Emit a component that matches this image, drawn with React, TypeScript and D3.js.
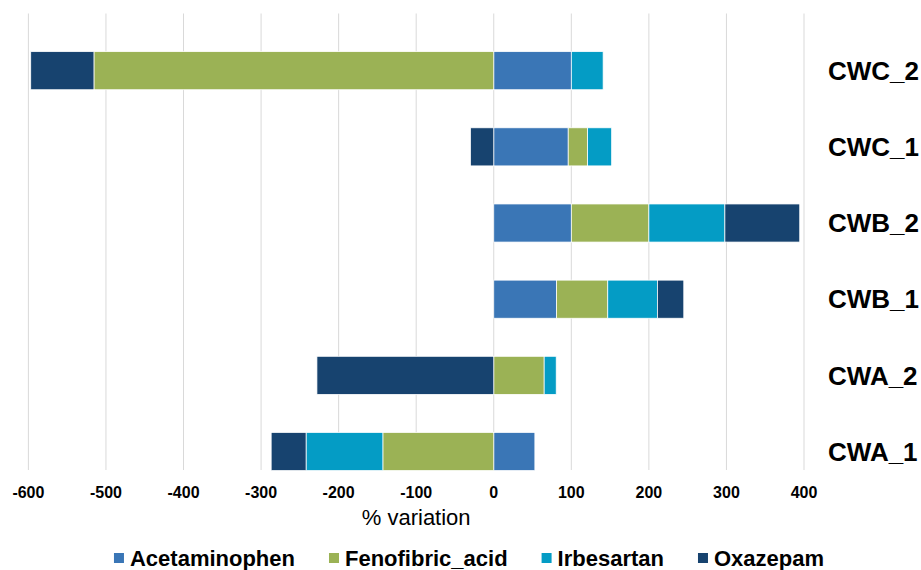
import React, { useEffect, useRef } from "react";
import * as d3 from "d3";

// Sites, listed top to bottom
const categories = ["CWC_2", "CWC_1", "CWB_2", "CWB_1", "CWA_2", "CWA_1"];
const seriesNames = ["Acetaminophen", "Fenofibric_acid", "Irbesartan", "Oxazepam"];

// % variation per compound, same order as categories
const acetaminophen = [100, 96, 100, 81, 0, 53];
const fenofibricAcid = [-515.5, 25, 100, 66, 65, -143];
const irbesartan = [41, 31, 98, 64, 15.5, -99];
const oxazepam = [-81.5, -30, 96.5, 34, -228, -45];

const xTicks = [-600, -500, -400, -300, -200, -100, 0, 100, 200, 300, 400];
const colors = ["#3a76b6", "#9bb255", "#049cc5", "#17436f"];

const W = 921;
const H = 570;
const FONT = "'Liberation Sans', Arial, sans-serif";

export default function App() {
  const ref = useRef<SVGSVGElement | null>(null);

  useEffect(() => {
    document.body.style.margin = "0";
    const svg = d3.select(ref.current);
    svg.selectAll("*").remove();

    const x = d3.scaleLinear().domain([-600, 400]).range([28.4, 804]);
    const y = d3
      .scaleBand<string>()
      .domain(categories)
      .range([32.6, 489.6])
      .paddingInner(0.5)
      .paddingOuter(0.25);

    const rows = categories.map((c, i) => ({
      cat: c,
      Acetaminophen: acetaminophen[i],
      Fenofibric_acid: fenofibricAcid[i],
      Irbesartan: irbesartan[i],
      Oxazepam: oxazepam[i],
    }));

    const stacked = d3
      .stack<any>()
      .keys(seriesNames)
      .offset(d3.stackOffsetDiverging)(rows);

    // vertical gridlines
    svg
      .append("g")
      .selectAll("line")
      .data(xTicks)
      .join("line")
      .attr("x1", (d) => x(d))
      .attr("x2", (d) => x(d))
      .attr("y1", 13.5)
      .attr("y2", 470)
      .attr("stroke", "#d9d9d9")
      .attr("stroke-width", 1);

    // stacked bars
    svg
      .append("g")
      .selectAll("g")
      .data(stacked)
      .join("g")
      .attr("fill", (_, i) => colors[i])
      .selectAll("rect")
      .data((s) => s.filter((d) => d[1] !== d[0]))
      .join("rect")
      .attr("x", (d) => x(Math.min(d[0], d[1])))
      .attr("width", (d) => Math.abs(x(d[1]) - x(d[0])))
      .attr("y", (d) => y(d.data.cat)!)
      .attr("height", y.bandwidth())
      .attr("stroke", "#ffffff")
      .attr("stroke-width", 0.75);

    // x tick labels
    svg
      .append("g")
      .selectAll("text")
      .data(xTicks)
      .join("text")
      .attr("x", (d) => x(d))
      .attr("y", 497.5)
      .attr("text-anchor", "middle")
      .attr("font-family", FONT)
      .attr("font-weight", "bold")
      .attr("font-size", 16)
      .attr("fill", "#000")
      .text((d) => String(d));

    // axis title
    svg
      .append("text")
      .attr("x", (x.range()[0] + x.range()[1]) / 2)
      .attr("y", 524.5)
      .attr("text-anchor", "middle")
      .attr("font-family", FONT)
      .attr("font-size", 22)
      .attr("fill", "#000")
      .text("% variation");

    // category labels on the right
    svg
      .append("g")
      .selectAll("text")
      .data(categories)
      .join("text")
      .attr("x", 828)
      .attr("y", (d) => y(d)! + y.bandwidth() / 2 + 9.3)
      .attr("font-family", FONT)
      .attr("font-weight", "bold")
      .attr("font-size", 26)
      .attr("fill", "#000")
      .text((d) => d);

    // legend
    const legend = svg.append("g");
    const items = legend
      .selectAll("g")
      .data(seriesNames)
      .join("g");
    items
      .append("rect")
      .attr("width", 10)
      .attr("height", 10)
      .attr("y", 553)
      .attr("fill", (_, i) => colors[i]);
    items
      .append("text")
      .attr("x", 16)
      .attr("y", 565.5)
      .attr("font-family", FONT)
      .attr("font-weight", "bold")
      .attr("font-size", 22)
      .attr("fill", "#000")
      .text((d) => d);

    const gap = 34;
    let cx = 0;
    const offsets: number[] = [];
    items.each(function () {
      const t = d3.select(this).select<SVGTextElement>("text").node()!;
      offsets.push(cx);
      cx += 16 + t.getComputedTextLength() + gap;
    });
    const total = cx - gap;
    const start = 469 - total / 2;
    items.attr("transform", (_, i) => `translate(${start + offsets[i]},0)`);
  }, []);

  return <svg ref={ref} width={W} height={H} style={{ display: "block", background: "#fff" }} />;
}
